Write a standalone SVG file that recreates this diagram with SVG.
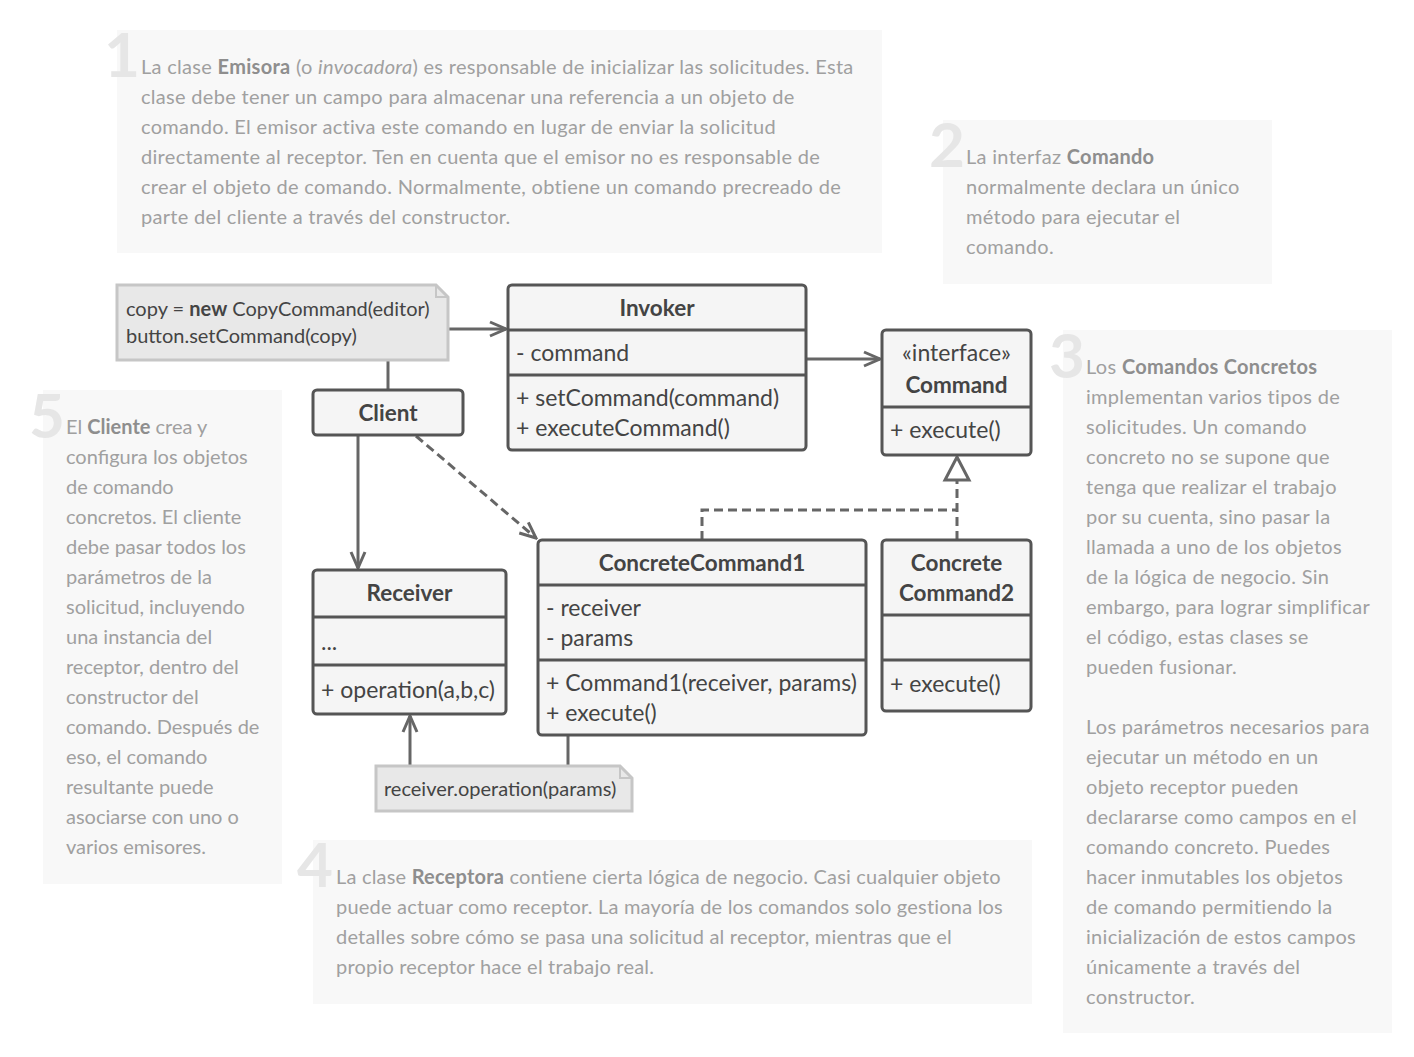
<svg xmlns="http://www.w3.org/2000/svg" width="1414" height="1057" viewBox="0 0 1414 1057">
<defs>
<style>
.panel{fill:#f8f8f8}
.num{font-family:Lato,"Liberation Sans",sans-serif;font-weight:bold;font-size:62px;fill:#e6e6e6}
.pt{font-family:Lato,"Liberation Sans",sans-serif;font-size:20px;letter-spacing:0.3px;fill:#a0a0a0}
.pt .b{font-weight:bold;fill:#8e8e8e}
.pt .i{font-style:italic}
.tight .pt{letter-spacing:0px}
.box{fill:#f5f5f5;stroke:#555;stroke-width:3}
.sep{stroke:#555;stroke-width:3}
.note{fill:#e8e8e8;stroke:#c6c6c6;stroke-width:3}
.t{font-family:Lato,"Liberation Sans",sans-serif;font-size:23px;fill:#444}
.h{font-family:Lato,"Liberation Sans",sans-serif;font-size:22.5px;font-weight:bold;fill:#444;text-anchor:middle}
.nt{font-family:Lato,"Liberation Sans",sans-serif;font-size:20px;fill:#444}
.ln{fill:none;stroke:#666;stroke-width:3}
.dash{stroke-dasharray:9 5}
</style>
<marker id="open" viewBox="0 0 20 20" refX="18" refY="10" markerWidth="20" markerHeight="20" markerUnits="userSpaceOnUse" orient="auto">
<path d="M2,3 L18,10 L2,17" fill="none" stroke="#666" stroke-width="3"/>
</marker>
</defs>
<rect width="1414" height="1057" fill="#fff"/>

<g id="panel1">
<rect class="panel" x="117" y="30" width="765" height="223"/>
<text class="num" x="104" y="77">1</text>
<text class="pt" x="141" y="74">La clase <tspan class="b">Emisora</tspan> (o <tspan class="i">invocadora</tspan>) es responsable de inicializar las solicitudes. Esta</text>
<text class="pt" x="141" y="104">clase debe tener un campo para almacenar una referencia a un objeto de</text>
<text class="pt" x="141" y="134">comando. El emisor activa este comando en lugar de enviar la solicitud</text>
<text class="pt" x="141" y="164">directamente al receptor. Ten en cuenta que el emisor no es responsable de</text>
<text class="pt" x="141" y="194">crear el objeto de comando. Normalmente, obtiene un comando precreado de</text>
<text class="pt" x="141" y="224">parte del cliente a través del constructor.</text>
</g>

<g id="panel2">
<rect class="panel" x="943" y="120" width="329" height="164"/>
<text class="num" x="929" y="167">2</text>
<text class="pt" x="966" y="164">La interfaz <tspan class="b">Comando</tspan></text>
<text class="pt" x="966" y="194">normalmente declara un único</text>
<text class="pt" x="966" y="224">método para ejecutar el</text>
<text class="pt" x="966" y="254">comando.</text>
</g>

<g id="panel3">
<rect class="panel" x="1063" y="330" width="329" height="703"/>
<text class="num" x="1049" y="378">3</text>
<text class="pt" x="1086" y="374">Los <tspan class="b">Comandos Concretos</tspan></text>
<text class="pt" x="1086" y="404">implementan varios tipos de</text>
<text class="pt" x="1086" y="434">solicitudes. Un comando</text>
<text class="pt" x="1086" y="464">concreto no se supone que</text>
<text class="pt" x="1086" y="494">tenga que realizar el trabajo</text>
<text class="pt" x="1086" y="524">por su cuenta, sino pasar la</text>
<text class="pt" x="1086" y="554">llamada a uno de los objetos</text>
<text class="pt" x="1086" y="584">de la lógica de negocio. Sin</text>
<text class="pt" x="1086" y="614">embargo, para lograr simplificar</text>
<text class="pt" x="1086" y="644">el código, estas clases se</text>
<text class="pt" x="1086" y="674">pueden fusionar.</text>
<text class="pt" x="1086" y="734">Los parámetros necesarios para</text>
<text class="pt" x="1086" y="764">ejecutar un método en un</text>
<text class="pt" x="1086" y="794">objeto receptor pueden</text>
<text class="pt" x="1086" y="824">declararse como campos en el</text>
<text class="pt" x="1086" y="854">comando concreto. Puedes</text>
<text class="pt" x="1086" y="884">hacer inmutables los objetos</text>
<text class="pt" x="1086" y="914">de comando permitiendo la</text>
<text class="pt" x="1086" y="944">inicialización de estos campos</text>
<text class="pt" x="1086" y="974">únicamente a través del</text>
<text class="pt" x="1086" y="1004">constructor.</text>
</g>

<g id="panel4" class="tight">
<rect class="panel" x="313" y="840" width="719" height="164"/>
<text class="num" x="297" y="887">4</text>
<text class="pt" x="336" y="884" style="letter-spacing:0.2px">La clase <tspan class="b">Receptora</tspan> contiene cierta lógica de negocio. Casi cualquier objeto</text>
<text class="pt" x="336" y="914" style="letter-spacing:0.2px">puede actuar como receptor. La mayoría de los comandos solo gestiona los</text>
<text class="pt" x="336" y="944" style="letter-spacing:0.2px">detalles sobre cómo se pasa una solicitud al receptor, mientras que el</text>
<text class="pt" x="336" y="974" style="letter-spacing:0.2px">propio receptor hace el trabajo real.</text>
</g>

<g id="panel5" class="tight">
<rect class="panel" x="43" y="390" width="239" height="494"/>
<text class="num" x="29" y="438">5</text>
<text class="pt" x="66" y="434">El <tspan class="b">Cliente</tspan> crea y</text>
<text class="pt" x="66" y="464">configura los objetos</text>
<text class="pt" x="66" y="494">de comando</text>
<text class="pt" x="66" y="524">concretos. El cliente</text>
<text class="pt" x="66" y="554">debe pasar todos los</text>
<text class="pt" x="66" y="584">parámetros de la</text>
<text class="pt" x="66" y="614">solicitud, incluyendo</text>
<text class="pt" x="66" y="644">una instancia del</text>
<text class="pt" x="66" y="674">receptor, dentro del</text>
<text class="pt" x="66" y="704">constructor del</text>
<text class="pt" x="66" y="734">comando. Después de</text>
<text class="pt" x="66" y="764">eso, el comando</text>
<text class="pt" x="66" y="794">resultante puede</text>
<text class="pt" x="66" y="824">asociarse con uno o</text>
<text class="pt" x="66" y="854">varios emisores.</text>
</g>

<g id="connectors">
<line class="ln" x1="449" y1="329" x2="506" y2="329" marker-end="url(#open)"/>
<line class="ln" x1="388" y1="360" x2="388" y2="390"/>
<line class="ln" x1="806" y1="359" x2="880" y2="359" marker-end="url(#open)"/>
<line class="ln" x1="358" y1="435" x2="358" y2="568" marker-end="url(#open)"/>
<line class="ln dash" x1="416" y1="436" x2="536" y2="538" marker-end="url(#open)"/>
<polyline class="ln dash" points="702,540 702,510 957,510"/>
<line class="ln dash" x1="957" y1="540" x2="957" y2="479"/>
<path d="M957,457 L969,480 L945,480 Z" fill="#fff" stroke="#666" stroke-width="3"/>
<line class="ln" x1="568" y1="735" x2="568" y2="766"/>
<line class="ln" x1="410" y1="766" x2="410" y2="716" marker-end="url(#open)"/>
</g>

<g id="note1">
<path class="note" d="M117,285 H436 L448,297 V360 H117 Z"/>
<path d="M436,285 V297 H448" fill="none" stroke="#c6c6c6" stroke-width="2"/>
<text class="nt" x="126" y="316">copy = <tspan font-weight="bold">new</tspan> CopyCommand(editor)</text>
<text class="nt" x="126" y="343">button.setCommand(copy)</text>
</g>

<g id="invoker">
<rect class="box" x="508" y="285" width="298" height="165" rx="4"/>
<line class="sep" x1="508" y1="330" x2="806" y2="330"/>
<line class="sep" x1="508" y1="375" x2="806" y2="375"/>
<text class="h" x="657" y="316">Invoker</text>
<text class="t" x="516" y="361">- command</text>
<text class="t" x="516" y="406">+ setCommand(command)</text>
<text class="t" x="516" y="436">+ executeCommand()</text>
</g>

<g id="command">
<rect class="box" x="882" y="330" width="149" height="125" rx="4"/>
<line class="sep" x1="882" y1="407" x2="1031" y2="407"/>
<text class="t" x="956.5" y="361" text-anchor="middle">«interface»</text>
<text class="h" x="956.5" y="393">Command</text>
<text class="t" x="890" y="438">+ execute()</text>
</g>

<g id="client">
<rect class="box" x="313" y="390" width="150" height="45" rx="4"/>
<text class="h" x="388" y="421">Client</text>
</g>

<g id="receiver">
<rect class="box" x="313" y="570" width="193" height="144" rx="4"/>
<line class="sep" x1="313" y1="617" x2="506" y2="617"/>
<line class="sep" x1="313" y1="665" x2="506" y2="665"/>
<text class="h" x="409.5" y="601">Receiver</text>
<text class="t" x="321" y="650">...</text>
<text class="t" x="321" y="698">+ operation(a,b,c)</text>
</g>

<g id="concretecommand1">
<rect class="box" x="538" y="540" width="328" height="195" rx="4"/>
<line class="sep" x1="538" y1="585" x2="866" y2="585"/>
<line class="sep" x1="538" y1="660" x2="866" y2="660"/>
<text class="h" x="702" y="571">ConcreteCommand1</text>
<text class="t" x="546" y="616">- receiver</text>
<text class="t" x="546" y="646">- params</text>
<text class="t" x="546" y="691">+ Command1(receiver, params)</text>
<text class="t" x="546" y="721">+ execute()</text>
</g>

<g id="concretecommand2">
<rect class="box" x="882" y="540" width="149" height="171" rx="4"/>
<line class="sep" x1="882" y1="615" x2="1031" y2="615"/>
<line class="sep" x1="882" y1="660" x2="1031" y2="660"/>
<text class="h" x="956.5" y="571">Concrete</text>
<text class="h" x="956.5" y="601">Command2</text>
<text class="t" x="890" y="692">+ execute()</text>
</g>

<g id="note2">
<path class="note" d="M376,766 H620 L632,778 V811 H376 Z"/>
<path d="M620,766 V778 H632" fill="none" stroke="#c6c6c6" stroke-width="2"/>
<text class="nt" x="384" y="796">receiver.operation(params)</text>
</g>
</svg>
